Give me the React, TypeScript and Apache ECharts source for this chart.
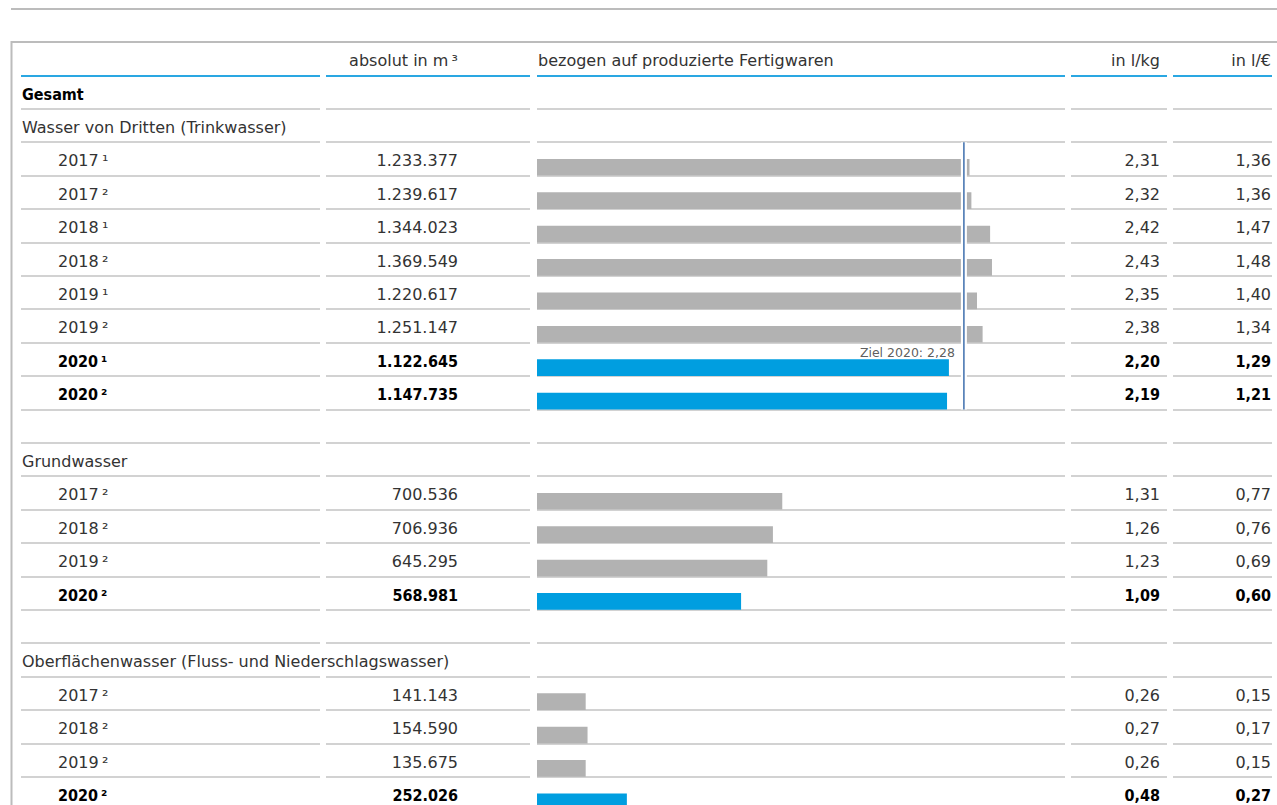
import React, { useEffect, useRef } from 'react';
import * as echarts from 'echarts';

// ---------- data ----------
const headerAbs = 'absolut in m\u2009³';
const headerBar = 'bezogen auf produzierte Fertigwaren';
const headerKg = 'in l/kg';
const headerEur = 'in l/€';
const totalLabel = 'Gesamt';

const thirdPartyName = 'Wasser von Dritten (Trinkwasser)';
const thirdPartyYears = ['2017\u2009¹', '2017\u2009²', '2018\u2009¹', '2018\u2009²', '2019\u2009¹', '2019\u2009²', '2020\u2009¹', '2020\u2009²'];
const thirdPartyAbs = [1233377, 1239617, 1344023, 1369549, 1220617, 1251147, 1122645, 1147735];
const thirdPartyKg = [2.31, 2.32, 2.42, 2.43, 2.35, 2.38, 2.2, 2.19];
const thirdPartyEur = [1.36, 1.36, 1.47, 1.48, 1.4, 1.34, 1.29, 1.21];

const groundName = 'Grundwasser';
const groundYears = ['2017\u2009²', '2018\u2009²', '2019\u2009²', '2020\u2009²'];
const groundAbs = [700536, 706936, 645295, 568981];
const groundKg = [1.31, 1.26, 1.23, 1.09];
const groundEur = [0.77, 0.76, 0.69, 0.6];

const surfaceName = 'Oberflächenwasser (Fluss- und Niederschlagswasser)';
const surfaceYears = ['2017\u2009²', '2018\u2009²', '2019\u2009²', '2020\u2009²'];
const surfaceAbs = [141143, 154590, 135675, 252026];
const surfaceKg = [0.26, 0.27, 0.26, 0.48];
const surfaceEur = [0.15, 0.17, 0.15, 0.27];

const target2020 = 2.28;
const targetLabel = 'Ziel 2020: 2,28';
const highlightYear = '2020';

// ---------- row model ----------
type Row = {
  kind: 'header' | 'total' | 'section' | 'year' | 'blank';
  label: string;
  abs?: number;
  kg?: number;
  eur?: number;
  hl?: boolean;
  section?: number;
};

const rows: Row[] = [];
rows.push({ kind: 'header', label: '' });
rows.push({ kind: 'total', label: totalLabel });
function addSection(idx: number, name: string, years: string[], abs: number[], kg: number[], eur: number[]) {
  rows.push({ kind: 'section', label: name });
  years.forEach((y, i) =>
    rows.push({ kind: 'year', label: y, abs: abs[i], kg: kg[i], eur: eur[i], hl: y.startsWith(highlightYear), section: idx })
  );
}
addSection(0, thirdPartyName, thirdPartyYears, thirdPartyAbs, thirdPartyKg, thirdPartyEur);
rows.push({ kind: 'blank', label: '' });
addSection(1, groundName, groundYears, groundAbs, groundKg, groundEur);
rows.push({ kind: 'blank', label: '' });
addSection(2, surfaceName, surfaceYears, surfaceAbs, surfaceKg, surfaceEur);

const cats = rows.map((_, i) => String(i));
const fmtInt = (n: number) => String(n).replace(/\B(?=(\d{3})+(?!\d))/g, '.');
const fmtDec = (n: number) => n.toFixed(2).replace('.', ',');

// target line spans the third-party year rows
const tpRows = rows.map((r, i) => (r.kind === 'year' && r.section === 0 ? i : -1)).filter((i) => i >= 0);
const targetStart = tpRows[0];
const targetEnd = tpRows[tpRows.length - 1] + 1;
const targetLabelRow = tpRows.find((i) => rows[i].hl) as number;

// ---------- styling ----------
const FONT = '"DejaVu Sans", "Open Sans", sans-serif';
const FONT_B = '"DejaVu Sans Condensed", "DejaVu Sans", sans-serif';
const FS = 16;
const TXT = '#333';
const GRAY_BAR = '#b2b2b2';
const BLUE = '#009ee0';
const LINE_GRAY = '#d2d2d2';
const FRAME_GRAY = '#bcbcbc';
const HEAD_BLUE = '#2aa7e2';
const ROW_H = 33.4;
const TOP = 42;
const BAR_MAX = 2.82;

const cols = [
  { left: 21, width: 299, pos: 'left', margin: 1 },
  { left: 326, width: 204, pos: 'right', margin: 72 },
  { left: 537, width: 528, pos: 'left', margin: 1 },
  { left: 1071, width: 96, pos: 'right', margin: 7 },
  { left: 1173, width: 99, pos: 'right', margin: 1 },
];

const rich = {
  n: { fontFamily: FONT, fontSize: FS, color: TXT, padding: [4, 0, 0, 0] },
  b: { fontFamily: FONT_B, fontSize: FS, color: '#000', fontWeight: 'bold', padding: [4, 0, 0, 0] },
  y: { fontFamily: FONT, fontSize: FS, color: TXT, padding: [4, 0, 0, 36] },
  yb: { fontFamily: FONT_B, fontSize: FS, color: '#000', fontWeight: 'bold', padding: [4, 0, 0, 36] },
};

function cellText(col: number, r: Row): string {
  if (col === 0) {
    if (r.kind === 'total') return `{b|${r.label}}`;
    if (r.kind === 'section') return `{n|${r.label}}`;
    if (r.kind === 'year') return r.hl ? `{yb|${r.label}}` : `{y|${r.label}}`;
    return '';
  }
  if (r.kind === 'header') {
    return `{n|${[undefined, headerAbs, headerBar, headerKg, headerEur][col]}}`;
  }
  if (r.kind !== 'year') return '';
  const s = col === 1 ? fmtInt(r.abs as number) : col === 3 ? fmtDec(r.kg as number) : col === 4 ? fmtDec(r.eur as number) : '';
  if (!s) return '';
  return r.hl ? `{b|${s}}` : `{n|${s}}`;
}

const splitColors = [FRAME_GRAY, HEAD_BLUE, ...rows.map(() => LINE_GRAY)];

function buildOption(): any {
  const grid = cols.map((c) => ({ left: c.left, width: c.width, top: TOP, height: rows.length * ROW_H, containLabel: false }));
  const xAxis = cols.map((c, i) => ({
    type: 'value',
    gridIndex: i,
    show: false,
    min: 0,
    max: i === 2 ? BAR_MAX : 1,
  }));
  const yAxis: any[] = cols.map((c, i) => ({
    type: 'category',
    gridIndex: i,
    data: cats,
    inverse: true,
    position: c.pos,
    axisLine: { show: false },
    axisTick: { show: false },
    splitLine: { show: true, interval: 0, lineStyle: { color: splitColors, width: 2 } },
    axisLabel: {
      show: true,
      inside: true,
      interval: 0,
      margin: c.margin,
      formatter: (v: string) => cellText(i, rows[Number(v)]),
      rich,
    },
  }));
  yAxis.push({ type: 'value', gridIndex: 2, min: 0, max: rows.length, inverse: true, show: false });

  const barData = rows.map((r) =>
    r.kind === 'year' ? { value: r.kg, itemStyle: { color: r.hl ? BLUE : GRAY_BAR } } : '-'
  );
  const targetData = [
    [target2020, targetStart],
    [target2020, targetEnd],
  ];

  return {
    animation: false,
    backgroundColor: '#fff',
    textStyle: { fontFamily: FONT },
    grid,
    xAxis,
    yAxis,
    graphic: [
      { type: 'line', shape: { x1: 11, y1: 9, x2: 1277, y2: 9 }, style: { stroke: FRAME_GRAY, lineWidth: 2 } },
      { type: 'line', shape: { x1: 11, y1: 42, x2: 1277, y2: 42 }, style: { stroke: FRAME_GRAY, lineWidth: 2 } },
      { type: 'line', shape: { x1: 11.5, y1: 41, x2: 11.5, y2: 820 }, style: { stroke: FRAME_GRAY, lineWidth: 2 } },
    ],
    series: [
      {
        type: 'bar',
        name: 'spacer',
        xAxisIndex: 2,
        yAxisIndex: 2,
        data: rows.map(() => '-'),
        barWidth: ROW_H / 2,
        barGap: '0%',
        silent: true,
      },
      {
        type: 'bar',
        name: 'l/kg',
        xAxisIndex: 2,
        yAxisIndex: 2,
        data: barData,
        barWidth: ROW_H / 2,
        barGap: '0%',
        silent: true,
      },
      {
        type: 'line',
        name: 'gap',
        xAxisIndex: 2,
        yAxisIndex: 5,
        data: targetData,
        symbol: 'none',
        lineStyle: { color: '#fff', width: 6 },
        z: 3,
        silent: true,
      },
      {
        type: 'line',
        name: 'target',
        xAxisIndex: 2,
        yAxisIndex: 5,
        data: targetData,
        symbol: 'none',
        lineStyle: { color: '#4a78b2', width: 1.6 },
        z: 4,
        silent: true,
      },
      {
        type: 'scatter',
        name: 'targetLabel',
        xAxisIndex: 2,
        yAxisIndex: 5,
        data: [[target2020, targetLabelRow + 0.5]],
        symbolSize: 0,
        z: 5,
        silent: true,
        label: {
          show: true,
          position: 'left',
          distance: 9,
          offset: [0, -7],
          formatter: targetLabel,
          fontFamily: FONT,
          fontSize: 12.5,
          color: '#333',
        },
      },
    ],
  };
}

export default function App() {
  const ref = useRef<HTMLDivElement>(null);
  useEffect(() => {
    if (!ref.current) return;
    const chart = echarts.init(ref.current, null, { renderer: 'svg' });
    chart.setOption(buildOption());
    return () => chart.dispose();
  }, []);
  return <div ref={ref} style={{ position: 'fixed', left: 0, top: 0, width: 1277, height: 820, background: '#fff' }} />;
}
